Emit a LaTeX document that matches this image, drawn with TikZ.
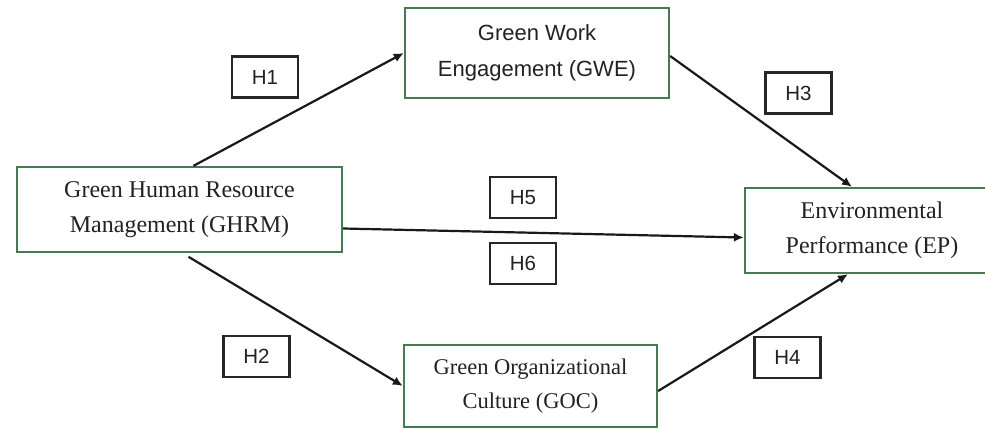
\documentclass[tikz,border=0pt]{standalone}
\usepackage{fontspec}
\setmainfont{Liberation Serif}
\setsansfont{Liberation Sans}
\usetikzlibrary{arrows.meta, positioning}
\definecolor{boxgreen}{HTML}{467A52}
\definecolor{inkgray}{HTML}{222222}
\tikzset{
	>={Latex[length=10pt,width=9pt]},
	construct/.style={draw=boxgreen, line width=2.3pt, align=center, inner sep=0pt,
		text=inkgray, font=\fontsize{24}{35}\selectfont},
	hypo/.style={draw=black!85, line width=2.2pt, minimum width=66pt,
		minimum height=41pt, inner sep=0pt, text=inkgray,
		font=\sffamily\fontsize{20.5}{24}\selectfont},
	link/.style={->, line width=2.2pt, black!90}}

\begin{document}
\begin{tikzpicture}[x=1pt, y=-1pt]
		\clip (0,0) rectangle (985,429);
		\fill[white] (0,0) rectangle (985,429);

		%constructs
		\node[construct, minimum width=325pt, minimum height=85pt] (ghrm) at (179.5,209.5)
			{Green Human Resource\\Management (GHRM)};
		\node[construct, minimum width=264pt, minimum height=90pt,
			font=\sffamily\fontsize{22}{36}\selectfont] (gwe) at (537,53)
			{Green Work\\Engagement (GWE)};
		\node[construct, minimum width=254pt, minimum height=85pt] (ep) at (872,230.5)
			{Environmental\\Performance (EP)};
		\node[construct, minimum width=253pt, minimum height=82pt,
			font=\fontsize{22.5}{34}\selectfont] (goc) at (530.5,386)
			{Green Organizational\\Culture (GOC)};

		%hypotheses
		\node[hypo] (h1) at (265,77) {H1};
		\node[hypo] (h2) at (256.5,356.5) {H2};
		\node[hypo] (h3) at (798.5,93) {H3};
		\node[hypo] (h4) at (787.5,357.5) {H4};
		\node[hypo] (h5) at (523,197.5) {H5};
		\node[hypo, below=23pt of h5] (h6) {H6};

		\draw[link] ([xshift=14pt]ghrm.north) -- (gwe.west);
		\draw[link, shorten <=7pt] ([xshift=3pt]ghrm.south) -- (goc.west);
		\draw[link] ([yshift=-3pt]gwe.east) -- ([xshift=-20pt]ep.north);
		\draw[link] ([yshift=-5pt]goc.east) -- ([xshift=-24pt]ep.south);
		\draw[link] ([yshift=-19pt]ghrm.east) -- ([yshift=-7pt]ep.west);
	\end{tikzpicture}
\end{document}
